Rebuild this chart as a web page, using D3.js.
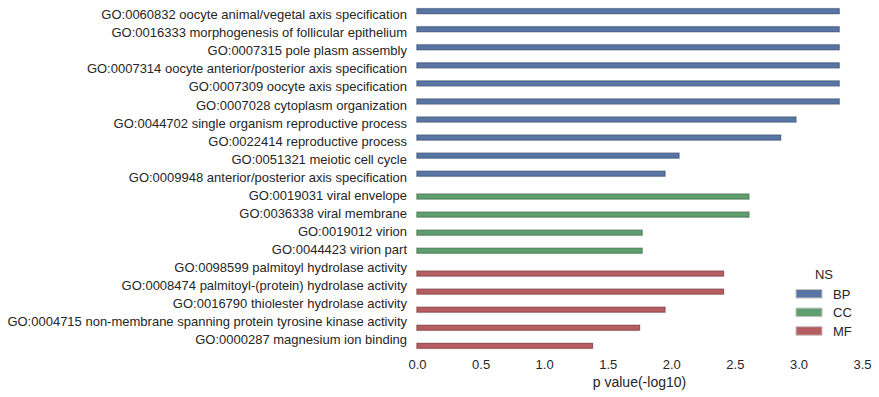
<!DOCTYPE html>
<html>
<head>
<meta charset="utf-8">
<script src="https://cdn.jsdelivr.net/npm/d3@7"></script>
<style>
    body { margin: 0; background: #fff; }
    text { font-family: "Liberation Sans", Arial, sans-serif; fill: #262626; }
</style>
</head>
<body>
<div class="panel"></div>
<script>

// Data ////////////////////////////////////

const terms = [
    "GO:0060832 oocyte animal/vegetal axis specification",
    "GO:0016333 morphogenesis of follicular epithelium",
    "GO:0007315 pole plasm assembly",
    "GO:0007314 oocyte anterior/posterior axis specification",
    "GO:0007309 oocyte axis specification",
    "GO:0007028 cytoplasm organization",
    "GO:0044702 single organism reproductive process",
    "GO:0022414 reproductive process",
    "GO:0051321 meiotic cell cycle",
    "GO:0009948 anterior/posterior axis specification",
    "GO:0019031 viral envelope",
    "GO:0036338 viral membrane",
    "GO:0019012 virion",
    "GO:0044423 virion part",
    "GO:0098599 palmitoyl hydrolase activity",
    "GO:0008474 palmitoyl-(protein) hydrolase activity",
    "GO:0016790 thiolester hydrolase activity",
    "GO:0004715 non-membrane spanning protein tyrosine kinase activity",
    "GO:0000287 magnesium ion binding"
];

const namespaces = ["BP", "BP", "BP", "BP", "BP", "BP", "BP", "BP", "BP", "BP",
    "CC", "CC", "CC", "CC",
    "MF", "MF", "MF", "MF", "MF"];

const pValues = [3.32, 3.32, 3.32, 3.32, 3.32, 3.32, 2.98, 2.86, 2.06, 1.95,
    2.61, 2.61, 1.77, 1.77,
    2.41, 2.41, 1.95, 1.75, 1.38];

const nsLevels = ["BP", "CC", "MF"];
const xTicks = [0, 0.5, 1, 1.5, 2, 2.5, 3, 3.5];

const colors = { BP: "#5875a4", CC: "#5f9e6e", MF: "#b55d60" };
const edges = { BP: "#3f5a86", CC: "#467d54", MF: "#8e4346" };

// Chart ////////////////////////////////////

const dim = { width: 879, height: 397 };
const margin = { left: 417, right: 17, top: 7, bottom: 47 };

const svg = d3.select(".panel").append("svg")
    .attr("width", dim.width)
    .attr("height", dim.height);

const data = terms.map((t, i) => ({ term: t, ns: namespaces[i], v: pValues[i] }));

const x = d3.scaleLinear()
    .domain([0, 3.5])
    .range([margin.left, dim.width - margin.right]);

const y = d3.scaleBand()
    .domain(terms)
    .range([margin.top, dim.height - margin.bottom])
    .padding(0);

const hue = d3.scaleBand()
    .domain(nsLevels)
    .range([-0.4 * y.bandwidth(), 0.4 * y.bandwidth()]);

// Bars

const bars = svg.append("g").attr("class", "bars");

bars.selectAll("rect.halo")
    .data(data)
    .join("rect")
    .attr("class", "halo")
    .attr("x", x(0))
    .attr("y", d => y(d.term) + y.bandwidth() / 2 + hue(d.ns))
    .attr("width", d => x(d.v) - x(0))
    .attr("height", hue.bandwidth())
    .attr("fill", "none")
    .attr("stroke", "#cfcfcf")
    .attr("stroke-width", 2);

bars.selectAll("rect.bar")
    .data(data)
    .join("rect")
    .attr("class", "bar")
    .attr("x", x(0))
    .attr("y", d => y(d.term) + y.bandwidth() / 2 + hue(d.ns))
    .attr("width", d => x(d.v) - x(0))
    .attr("height", hue.bandwidth())
    .attr("fill", d => colors[d.ns])
    .attr("stroke", d => edges[d.ns])
    .attr("stroke-width", 0.8);

// Axes

const yAxis = svg.append("g")
    .attr("transform", `translate(${ margin.left }, 0)`)
    .call(d3.axisLeft(y).tickSize(0).tickPadding(10));

yAxis.select(".domain").remove();
yAxis.selectAll("text")
    .attr("dy", "0.25em")
    .style("font-size", "13px");

const xAxis = svg.append("g")
    .attr("transform", `translate(0, ${ dim.height - margin.bottom })`)
    .call(d3.axisBottom(x).tickValues(xTicks).tickFormat(d3.format(".1f")).tickSize(0).tickPadding(10));

xAxis.select(".domain").remove();
xAxis.selectAll("text").style("font-size", "13px");

svg.append("text")
    .attr("x", (x(0) + x(3.5)) / 2)
    .attr("y", 387)
    .attr("text-anchor", "middle")
    .style("font-size", "14px")
    .text("p value(-log10)");

// Legend

const legend = svg.append("g").attr("transform", "translate(796, 0)");

legend.append("text")
    .attr("x", 28)
    .attr("y", 279)
    .attr("text-anchor", "middle")
    .style("font-size", "13px")
    .text("NS");

const items = legend.selectAll("g.item")
    .data(nsLevels)
    .join("g")
    .attr("class", "item")
    .attr("transform", (d, i) => `translate(0, ${ 289.5 + i * 18.6 })`);

items.append("rect")
    .attr("width", 26)
    .attr("height", 8.5)
    .attr("fill", d => colors[d])
    .attr("stroke", "#c4c4c4")
    .attr("stroke-width", 1);

items.append("text")
    .attr("x", 37)
    .attr("y", 4.5)
    .attr("dy", "0.35em")
    .style("font-size", "13px")
    .text(d => d);

</script>
</body>
</html>
